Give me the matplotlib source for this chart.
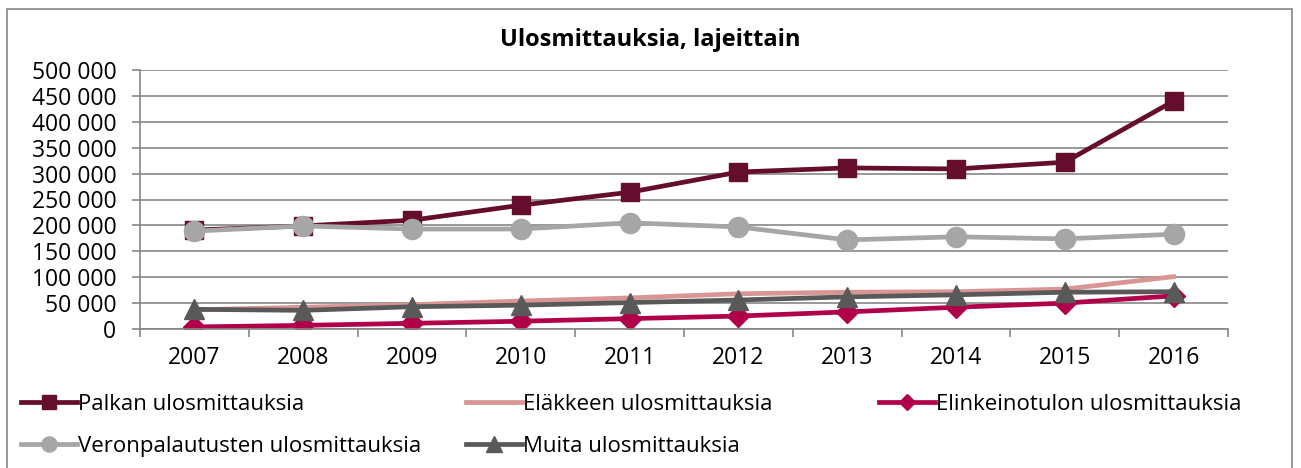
import matplotlib.pyplot as plt
from matplotlib.patches import Rectangle
from matplotlib.ticker import FuncFormatter

plt.rcParams['font.family'] = ['Open Sans', 'DejaVu Sans']

years = ['2007', '2008', '2009', '2010', '2011', '2012', '2013', '2014', '2015', '2016']
palkan = [191000, 199000, 210000, 239000, 264000, 303000, 311000, 309000, 322000, 440000]
elakkeen = [37000, 42000, 47000, 54000, 60000, 68000, 71000, 72000, 77000, 101000]
elinkeino = [4000, 7000, 11000, 15000, 20000, 25000, 33000, 42000, 50000, 64000]
vero = [189000, 199000, 193000, 193000, 205000, 197000, 172000, 178000, 174000, 183000]
muita = [38000, 36000, 43000, 46000, 51000, 56000, 62000, 66000, 71000, 72000]

labels = ['Palkan ulosmittauksia', 'Eläkkeen ulosmittauksia', 'Elinkeinotulon ulosmittauksia',
          'Veronpalautusten ulosmittauksia', 'Muita ulosmittauksia']

fig = plt.figure(figsize=(13.01, 4.68), dpi=100)
fig.patches.append(Rectangle((7 / 1301, -0.01), 1285 / 1301, 1 - 9 / 468 + 0.01,
                             transform=fig.transFigure, fill=False,
                             edgecolor='#868686', linewidth=1.2))
ax = fig.add_axes([140 / 1301, 1 - 329 / 468, 1088 / 1301, 259 / 468])

x = list(range(len(years)))
lw = 3.4
h1, = ax.plot(x, palkan, color='#650D2C', lw=lw, marker='s', ms=13.5)
h2, = ax.plot(x, elakkeen, color='#D99594', lw=lw)
h3, = ax.plot(x, elinkeino, color='#B0004A', lw=lw, marker='D', ms=11)
h4, = ax.plot(x, vero, color='#A6A6A6', lw=lw, marker='o', ms=14.5)
h5, = ax.plot(x, muita, color='#595959', lw=lw, marker='^', ms=14.5)

ax.set_xlim(-0.5, len(years) - 0.5)
ax.set_ylim(0, 500000)
ax.set_yticks(range(0, 500001, 50000))
ax.yaxis.set_major_formatter(FuncFormatter(lambda v, p: f'{int(v):,}'.replace(',', ' ')))
ax.set_xticks(x)
ax.set_xticklabels(years)
ax.set_xticks([i - 0.5 for i in range(len(years) + 1)], minor=True)
ax.tick_params(axis='x', which='major', length=0, pad=12, labelsize=16.5)
ax.tick_params(axis='x', which='minor', length=6, color='#868686', width=1.2)
ax.tick_params(axis='y', length=6, color='#868686', width=1.2, labelsize=16.5, pad=11)
ax.grid(axis='y', color='#868686', lw=1.2)
ax.set_axisbelow(True)
for s in ['top', 'right']:
    ax.spines[s].set_visible(False)
for s in ['left', 'bottom']:
    ax.spines[s].set_color('#868686')
    ax.spines[s].set_linewidth(1.2)

fig.text(0.5, 1 - 40 / 468, 'Ulosmittauksia, lajeittain', ha='center', va='center',
         fontsize=17, fontweight='bold')

cols = [([h1, h4], [labels[0], labels[3]], 21),
        ([h2, h5], [labels[1], labels[4]], 466),
        ([h3], [labels[2]], 879)]
for hs, ls, px in cols:
    fig.legend(hs, ls, loc='upper left', bbox_to_anchor=(px / 1301, 1 - 394 / 468),
               frameon=False, fontsize=16, handlelength=2.5, handletextpad=0.08,
               labelspacing=0.95, borderaxespad=0, borderpad=0, markerscale=0.75)

fig.savefig('out.png', dpi=100)
